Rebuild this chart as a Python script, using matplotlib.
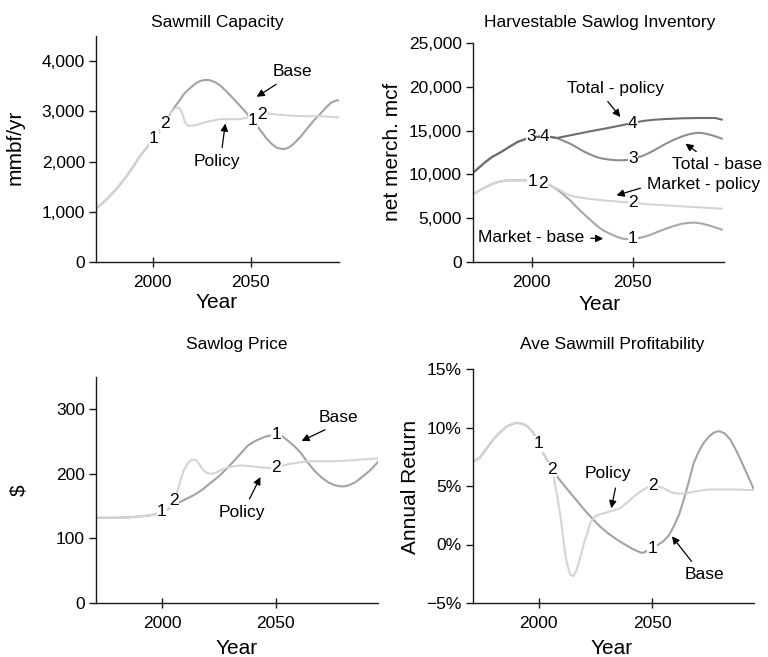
import matplotlib
matplotlib.use("Agg")
import matplotlib.pyplot as plt
import numpy as np
from matplotlib.ticker import FuncFormatter

plt.rcParams['font.family'] = ['Liberation Sans', 'DejaVu Sans']
plt.rcParams['axes.unicode_minus'] = True

# --- Sawmill capacity (mmbf/yr) ---
cap_policy_years = [1971, 1974, 1977.7, 1982, 1986.3, 1990, 1993.2, 1996.5, 2000, 2006.3, 2009.4,
                    2011, 2012.5, 2013.7, 2015, 2016.3, 2018, 2022, 2027.4, 2034.2, 2044.5, 2050,
                    2054, 2058, 2066.8, 2075, 2085.6, 2095.5]
cap_policy = [1063, 1160, 1296, 1480, 1694, 1900, 2093, 2260, 2425, 2757, 2990,
              3050, 3076, 3060, 2960, 2791, 2710, 2724, 2791, 2844, 2844, 2890,
              2937, 2957, 2924, 2904, 2904, 2877]
cap_base_years = [1971, 1974, 1977.7, 1982, 1986.3, 1990, 1993.2, 1996.5, 2000, 2006.3, 2009.4,
                  2013.7, 2016, 2018.8, 2021.5, 2024, 2026.5, 2029, 2031.5, 2034.2, 2037.5,
                  2041, 2044.5, 2048, 2053, 2058, 2061, 2063.4, 2066.8, 2069.5, 2072, 2075.5,
                  2078.8, 2082, 2085.6, 2088.5, 2090.8, 2094, 2095.5]
cap_base = [1063, 1160, 1296, 1480, 1694, 1900, 2093, 2260, 2425, 2757, 2990,
            3223, 3350, 3455, 3545, 3601, 3625, 3621, 3585, 3522, 3400,
            3256, 3110, 2957, 2724, 2458, 2340, 2272, 2246, 2280, 2359, 2500,
            2658, 2810, 2957, 3080, 3169, 3223, 3203]

# --- Harvestable sawlog inventory (net merch. mcf) ---
inv_hist_years = [1971.5, 1976.7, 1980.5, 1984.9, 1989, 1993, 1996.5, 1999.5, 2004, 2009.3]
tot_hist = [10274, 11340, 12000, 12557, 13150, 13699, 14000, 14270, 14300, 14270]
mkt_hist_years = [1971.5, 1976.7, 1980, 1983.2, 1986.5, 1989.7, 1997.9, 2004.4, 2009.3]
mkt_hist = [7800, 8485, 8850, 9132, 9270, 9323, 9323, 9018, 8752]

tot_policy_years = [2012.5, 2019, 2028.8, 2038.6, 2048.4, 2054.9, 2060, 2066.3, 2074, 2082.6,
                    2090.7, 2094]
tot_policy = [14155, 14460, 14916, 15335, 15791, 16096, 16230, 16324, 16400, 16438,
              16438, 16248]
tot_base_years = [2012.5, 2015.5, 2019, 2022.5, 2025.6, 2029, 2032, 2035, 2038.6, 2042, 2045,
                  2048.5, 2051.6, 2055, 2058, 2062, 2066.3, 2070.5, 2074.4, 2078, 2081,
                  2083.5, 2085.8, 2088.5, 2090.7, 2094]
tot_base = [14155, 13850, 13508, 13050, 12633, 12270, 11986, 11800, 11682, 11620, 11606,
            11700, 11872, 12130, 12443, 12950, 13508, 13980, 14346, 14600, 14726,
            14740, 14650, 14500, 14346, 14080]
mkt_base_years = [2011.5, 2014.2, 2016.5, 2019, 2022, 2025.6, 2029, 2032, 2035, 2038.6, 2042,
                  2045, 2048, 2051.6, 2054.5, 2058, 2062, 2066.3, 2070.5, 2074.4, 2078,
                  2081, 2084, 2087.5, 2091, 2094]
mkt_base = [8420, 7991, 7530, 7040, 6300, 5518, 4800, 4186, 3650, 3234, 2880,
            2664, 2600, 2664, 2820, 3044, 3420, 3805, 4130, 4376, 4480,
            4490, 4390, 4186, 3920, 3691]
mkt_policy_years = [2011.5, 2014.2, 2016.5, 2019, 2022, 2025.6, 2030, 2035.3, 2045, 2058,
                    2074.4, 2094]
mkt_policy = [8480, 8181, 7850, 7610, 7430, 7306, 7170, 7040, 6849, 6583, 6355, 6088]

# --- Sawlog price ($) ---
price_policy_years = [1970.6, 1980, 1987, 1993, 1997, 2002, 2004.5, 2006.5, 2008, 2009.5, 2011.5,
                      2013, 2014.2, 2015.4, 2017, 2018.4, 2020, 2022, 2024.5, 2027, 2030.5,
                      2034.7, 2039, 2043.6, 2049.6, 2055.5, 2060, 2064.4, 2070, 2076, 2085,
                      2095.5]
price_policy = [132, 132, 133, 135, 137, 144, 152, 169, 188, 205, 217,
                221.5, 222, 220, 212, 205, 201, 200, 203, 208, 211,
                213, 212, 210, 209, 215, 217.5, 219.5, 219.5, 219.5, 221.5, 224]
price_base_years = [1970.6, 1980, 1987, 1993, 1997, 2002, 2006.5, 2010, 2014, 2018, 2021, 2025,
                    2029, 2033, 2037.7, 2041, 2045, 2047.5, 2050, 2053, 2055.5, 2058.5, 2061.4,
                    2064, 2067, 2070, 2073, 2075.5, 2077.7, 2080, 2082, 2085, 2088, 2092,
                    2095.5]
price_base = [132, 132, 133, 135, 137, 144, 154, 160, 167, 176, 185, 196,
              210, 225, 243.6, 251, 257, 259.5, 260.5, 258, 251, 242, 231,
              218, 205, 195, 187, 183, 181, 180.5, 182, 187, 195, 207, 220.5]

# --- Average sawmill profitability (% annual return) ---
prof_hist_years = [1971, 1974, 1977, 1980, 1983, 1986, 1988.5, 1990.4, 1993, 1995, 1997,
                   1998.5, 2000, 2002, 2004, 2006]
prof_hist = [7.1, 7.4, 8.2, 9.0, 9.6, 10.1, 10.3, 10.4, 10.3, 10.1, 9.7,
             9.25, 8.6, 7.8, 7.1, 6.4]
prof_base_years = [2008, 2011, 2014, 2017, 2020, 2023.5, 2027, 2031, 2034.6, 2038, 2042, 2045.6,
                   2049, 2052, 2055, 2057.5, 2059.6, 2062, 2064, 2066, 2068.4, 2070.5, 2072.8,
                   2075, 2077, 2078.5, 2080, 2082, 2084.6, 2087.5, 2090.4, 2095]
prof_base = [5.83, 5.1, 4.4, 3.7, 3.0, 2.25, 1.55, 0.9, 0.41, 0.0, -0.44, -0.73,
             -0.44, -0.1, 0.27, 0.8, 1.55, 2.6, 3.83, 5.2, 6.97, 7.9, 8.68,
             9.2, 9.53, 9.65, 9.67, 9.5, 8.96, 7.9, 6.68, 4.69]
prof_policy_years = [2006.6, 2008, 2009.6, 2010.8, 2011.8, 2013, 2014, 2015.4, 2016.5, 2017.6,
                     2018.8, 2020, 2021.5, 2022.8, 2024.5, 2026.5, 2031.6, 2036, 2040.4, 2044.9,
                     2049.3, 2052, 2055, 2058, 2061, 2065, 2068, 2074.3, 2086, 2095]
prof_policy = [5.8, 4.3, 2.4, 0.6, -1.0, -2.0, -2.6, -2.7, -2.3, -1.6,
               -0.8, 0.13, 1.0, 1.84, 2.35, 2.55, 2.83, 3.1, 3.83, 4.54,
               5.0, 5.0, 4.83, 4.5, 4.35, 4.35, 4.5, 4.7, 4.7, 4.65]

BASE = '#a3a3a3'
POLICY = '#d4d4d4'
TOT_POLICY = '#6e6e6e'
TOT_BASE = '#8e8e8e'
MKT_BASE = '#a8a8a8'
MKT_POLICY = '#d4d4d4'
INK = '#1a1a1a'
LW = 1.5

W, H = 768, 657
fig = plt.figure(figsize=(W / 100, H / 100), dpi=100)


def box(left, top, right, bottom):
    return [left / W, 1 - bottom / H, (right - left) / W, (bottom - top) / H]


def ftext(x, y, s, **kw):
    fig.text(x / W, 1 - y / H, s, ha='center', va='center', **kw)


def style(ax, ylim, yticks, fmt):
    ax.set_xlim(1971, 2095)
    ax.set_ylim(*ylim)
    ax.set_xticks([2000, 2050])
    ax.set_yticks(yticks)
    ax.yaxis.set_major_formatter(FuncFormatter(fmt))
    for s in ('top', 'right'):
        ax.spines[s].set_visible(False)
    for s in ('left', 'bottom'):
        ax.spines[s].set_color(INK)
        ax.spines[s].set_linewidth(1.0)
    ax.tick_params(axis='y', direction='out', length=5, width=1, color=INK,
                   labelsize=12.5, pad=3)
    ax.tick_params(axis='x', direction='inout', length=7, width=1, color=INK,
                   labelsize=12.5, pad=6)


def line(ax, xs, ys, color):
    ax.plot(xs, ys, color=color, lw=LW, solid_joinstyle='round', solid_capstyle='round')


def tag(ax, s, yr, xs, ys):
    ax.text(yr, np.interp(yr, xs, ys), s, fontsize=12.5, ha='center', va='center',
            bbox=dict(facecolor='white', edgecolor='none', pad=0.3), zorder=5)


def note(ax, s, text_xy, head_xy, relpos=(0.5, 0.5)):
    ax.annotate(s, xy=head_xy, xytext=text_xy, fontsize=12.5, ha='center', va='center',
                annotation_clip=False,
                arrowprops=dict(arrowstyle='-|>', color='black', lw=0.9, relpos=relpos,
                                mutation_scale=11, shrinkA=3, shrinkB=0))


thousands = lambda v, p: f'{int(v):,}'
plain = lambda v, p: f'{int(v)}'
percent = lambda v, p: f'{int(v)}%'.replace('-', '\u2212')

# Sawmill capacity
ax1 = fig.add_axes(box(96, 36, 339, 262))
style(ax1, (0, 4500), [0, 1000, 2000, 3000, 4000], thousands)
line(ax1, cap_base_years, cap_base, BASE)
line(ax1, cap_policy_years, cap_policy, POLICY)
tag(ax1, '1', 2000.5, cap_base_years, cap_base)
tag(ax1, '2', 2006.3, cap_policy_years, cap_policy)
tag(ax1, '1', 2051, cap_base_years, cap_base)
tag(ax1, '2', 2055.6, cap_policy_years, cap_policy)
note(ax1, 'Base', (2071, 3787), (2053, 3289), relpos=(0.3, 0.0))
note(ax1, 'Policy', (2032.5, 1993), (2037, 2757), relpos=(0.6, 1.0))
ftext(217, 22, 'Sawmill Capacity', fontsize=12.5)
ftext(217, 303, 'Year', fontsize=15)
ftext(15, 147, 'mmbf/yr', fontsize=15, rotation=90)

# Harvestable sawlog inventory
ax2 = fig.add_axes(box(473, 43, 724, 262))
style(ax2, (0, 25000), [0, 5000, 10000, 15000, 20000, 25000], thousands)
line(ax2, inv_hist_years + tot_base_years, tot_hist + tot_base, TOT_BASE)
line(ax2, inv_hist_years + tot_policy_years, tot_hist + tot_policy, TOT_POLICY)
line(ax2, mkt_hist_years + mkt_base_years, mkt_hist + mkt_base, MKT_BASE)
line(ax2, mkt_hist_years + mkt_policy_years, mkt_hist + mkt_policy, MKT_POLICY)
tag(ax2, '3', 1999.5, inv_hist_years + tot_base_years, tot_hist + tot_base)
tag(ax2, '4', 2006.5, inv_hist_years + tot_policy_years, tot_hist + tot_policy)
tag(ax2, '1', 2000.3, mkt_hist_years + mkt_base_years, mkt_hist + mkt_base)
tag(ax2, '2', 2005.7, mkt_hist_years + mkt_policy_years, mkt_hist + mkt_policy)
tag(ax2, '4', 2050, tot_policy_years, tot_policy)
tag(ax2, '3', 2050, tot_base_years, tot_base)
tag(ax2, '2', 2050, mkt_policy_years, mkt_policy)
tag(ax2, '1', 2050, mkt_base_years, mkt_base)
note(ax2, 'Total - policy', (2041.4, 19863), (2043.8, 16553), relpos=(0.37, 0.0))
note(ax2, 'Total - base', (2091.5, 11150), (2076, 13508), relpos=(0.35, 1.0))
note(ax2, 'Market - policy', (2085, 8828), (2041.9, 7610), relpos=(0.0, 0.4))
note(ax2, 'Market - base', (1999.5, 2740), (2035.3, 2664), relpos=(1.0, 0.5))
ftext(600, 23, 'Harvestable Sawlog Inventory', fontsize=12.5)
ftext(600, 305, 'Year', fontsize=15)
ftext(393, 152, 'net merch. mcf', fontsize=15, rotation=90)

# Sawlog price
ax3 = fig.add_axes(box(96, 377, 378, 603))
style(ax3, (0, 350), [0, 100, 200, 300], plain)
line(ax3, price_base_years, price_base, BASE)
line(ax3, price_policy_years, price_policy, POLICY)
tag(ax3, '1', 2000, price_base_years, price_base)
tag(ax3, '2', 2005.3, price_policy_years, price_policy)
tag(ax3, '1', 2050.3, price_base_years, price_base)
tag(ax3, '2', 2050.3, price_policy_years, price_policy)
note(ax3, 'Base', (2077.7, 287), (2061.4, 251), relpos=(0.4, 0.0))
note(ax3, 'Policy', (2035, 139.5), (2043.3, 195), relpos=(0.6, 1.0))
ftext(237, 345, 'Sawlog Price', fontsize=12.5)
ftext(237, 648, 'Year', fontsize=15)
ftext(19, 490, '$', fontsize=15, rotation=90)

# Average sawmill profitability
ax4 = fig.add_axes(box(473, 369, 754, 603))
style(ax4, (-5, 15), [-5, 0, 5, 10, 15], percent)
line(ax4, prof_hist_years + prof_base_years, prof_hist + prof_base, BASE)
line(ax4, prof_hist_years + prof_policy_years, prof_hist + prof_policy, POLICY)
tag(ax4, '1', 2000, prof_hist_years, prof_hist)
tag(ax4, '2', 2006, prof_hist_years + prof_base_years, prof_hist + prof_base)
tag(ax4, '2', 2050.4, prof_policy_years, prof_policy)
tag(ax4, '1', 2050, prof_base_years, prof_base)
note(ax4, 'Policy', (2030.4, 6.05), (2032, 3.1), relpos=(0.7, 0.0))
note(ax4, 'Base', (2073, -2.6), (2058.8, 0.7), relpos=(0.3, 1.0))
ftext(612, 345, 'Ave Sawmill Profitability', fontsize=12.5)
ftext(612, 648, 'Year', fontsize=15)
ftext(410, 487, 'Annual Return', fontsize=15, rotation=90)

fig.savefig('out.png', dpi=100)
